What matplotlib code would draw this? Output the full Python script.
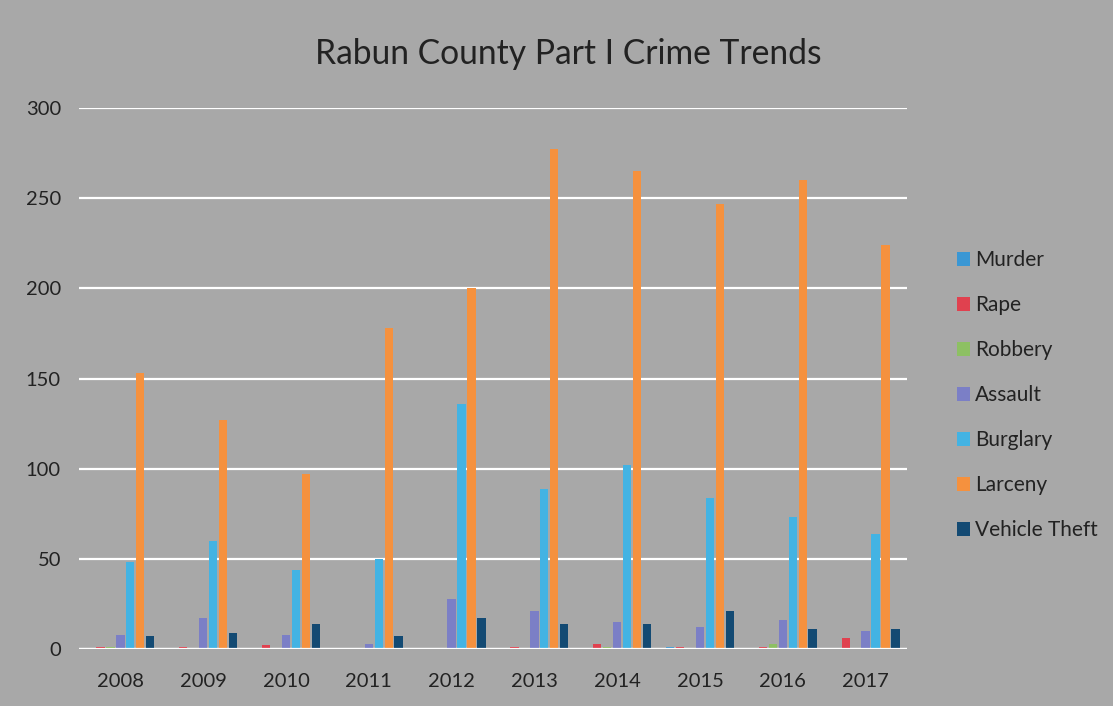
import numpy as np
import matplotlib.pyplot as plt
from matplotlib.patches import Patch

# Rabun County Part I crime counts by year
years = ['2008', '2009', '2010', '2011', '2012', '2013', '2014', '2015', '2016', '2017']
murder = [0, 0, 0, 0, 0, 0, 0, 1, 0, 0]
rape = [1, 1, 2, 0, 0, 1, 3, 1, 1, 6]
robbery = [1, 0, 0, 0, 0, 0, 1, 0, 3, 0]
assault = [8, 17, 8, 3, 28, 21, 15, 12, 16, 10]
burglary = [48, 60, 44, 50, 136, 89, 102, 84, 73, 64]
larceny = [153, 127, 97, 178, 200, 277, 265, 247, 260, 224]
vehicle_theft = [7, 9, 14, 7, 17, 14, 14, 21, 11, 11]

series = [
    ('Murder', murder, '#3a97d4'),
    ('Rape', rape, '#e0414f'),
    ('Robbery', robbery, '#8dc063'),
    ('Assault', assault, '#7b7fc6'),
    ('Burglary', burglary, '#43b3e3'),
    ('Larceny', larceny, '#f5913e'),
    ('Vehicle Theft', vehicle_theft, '#134a73'),
]

bg = '#a8a8a8'
plt.rcParams['font.family'] = ['Lato', 'DejaVu Sans']

fig = plt.figure(figsize=(11.13, 7.06), dpi=100, facecolor=bg)
ax = fig.add_axes([79 / 1113, 1 - 649 / 706, 828 / 1113, 541 / 706], facecolor=bg)

x = np.arange(len(years))
step = 0.12
width = 0.1
for i, (name, vals, col) in enumerate(series):
    ax.bar(x + (i - 3) * step, vals, width=width, color=col, zorder=3)

ax.set_xlim(-0.5, len(years) - 0.5)
ax.set_ylim(0, 300)
ax.set_yticks(range(0, 301, 50))
ax.set_xticks(x)
ax.set_xticklabels(years)
ax.yaxis.grid(True, color='white', linewidth=1.6, zorder=0)
ax.axhline(0, color='white', linewidth=1.6, zorder=4)
for s in ax.spines.values():
    s.set_visible(False)
ax.tick_params(length=0, labelsize=14.5, colors='#222222')
ax.tick_params(axis='y', pad=13)
ax.tick_params(axis='x', pad=17)

fig.text(0.511, 1 - 54 / 706, 'Rabun County Part I Crime Trends', ha='center', va='center',
         fontsize=24.2, color='#222222')

handles = [Patch(facecolor=c, label=n) for n, v, c in series]
fig.legend(handles=handles, loc='center left', bbox_to_anchor=(0.843, 0.44), frameon=False,
           fontsize=15, labelspacing=1.2, handlelength=0.6, handleheight=0.6,
           handletextpad=0.25, labelcolor='#222222')

fig.savefig('out.png', dpi=100, facecolor=bg)
